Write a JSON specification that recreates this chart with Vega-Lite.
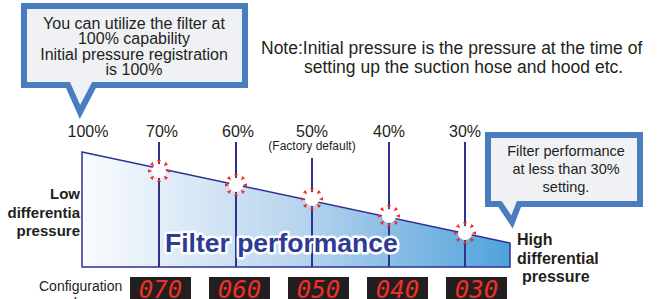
{
  "$schema": "https://vega.github.io/schema/vega-lite/v6.json",
  "width": 666,
  "height": 299,
  "padding": 0,
  "autosize": {"type": "none"},
  "background": "#ffffff",
  "config": {"view": {"stroke": null}, "text": {"font": "Liberation Sans"}},
  "datasets": {
    "area": [{"s": 0, "L": 115}, {"s": 5.5584, "L": 24}],
    "rules": [
      {"s": 1.0, "L": 125, "L2": 0},
      {"s": 2.0, "L": 125, "L2": 0},
      {"s": 2.987, "L": 109, "L2": 0},
      {"s": 3.987, "L": 125, "L2": 0},
      {"s": 4.974, "L": 125, "L2": 0}
    ],
    "stars": [
      {"s": 1.0, "L": 96},
      {"s": 2.0, "L": 82},
      {"s": 2.987, "L": 68},
      {"s": 3.987, "L": 51},
      {"s": 4.974, "L": 34}
    ],
    "pct": [
      {"s": 0.078, "L": 130, "t": "100%"},
      {"s": 1.039, "L": 130, "t": "70%"},
      {"s": 2.026, "L": 130, "t": "60%"},
      {"s": 2.987, "L": 130, "t": "50%"},
      {"s": 3.987, "L": 130, "t": "40%"},
      {"s": 4.974, "L": 130, "t": "30%"}
    ],
    "factory": [{"s": 2.987, "L": 117, "t": "(Factory default)"}],
    "note": [
      {"s": 2.3247, "L": 213, "t": "Note:Initial pressure is the pressure at the time of"},
      {"s": 2.8831, "L": 194, "t": "setting up the suction hose and hood etc."}
    ],
    "bubble1": [{"s": 0.6818, "L": 221.5}],
    "bubble2": [{"s": 6.2597, "L": 97.5}],
    "b1text": [
      {"s": 0.6753, "L": 238.5, "t": "You can utilize the filter at"},
      {"s": 0.6753, "L": 223, "t": "100% capability"},
      {"s": 0.6753, "L": 207.5, "t": "Initial pressure registration"},
      {"s": 0.6753, "L": 192, "t": "is 100%"}
    ],
    "b2text": [
      {"s": 6.2857, "L": 111, "t": "Filter performance"},
      {"s": 6.2857, "L": 93, "t": "at less than 30%"},
      {"s": 6.2857, "L": 75, "t": "setting."}
    ],
    "low": [
      {"s": -0.026, "L": 68, "t": "Low"},
      {"s": -0.026, "L": 49, "t": "differentia"},
      {"s": -0.026, "L": 31, "t": "pressure"}
    ],
    "high": [
      {"s": 5.6494, "L": 22, "t": "High"},
      {"s": 5.6494, "L": 3, "t": "differential"},
      {"s": 5.7143, "L": -15, "t": "pressure"}
    ],
    "perf": [{"s": 1.0779, "L": 15, "t": "Filter performance"}],
    "config": [
      {"s": -0.5584, "L": -24, "t": "Configuration"},
      {"s": -0.3, "L": -41, "t": "values"}
    ],
    "led": [
      {"s": 0.6234, "s2": 1.4156, "L": -10, "L2": -43, "c": 1.0195, "t": "070"},
      {"s": 1.6494, "s2": 2.4416, "L": -10, "L2": -43, "c": 2.0455, "t": "060"},
      {"s": 2.6753, "s2": 3.4675, "L": -10, "L2": -43, "c": 3.0714, "t": "050"},
      {"s": 3.7013, "s2": 4.4935, "L": -10, "L2": -43, "c": 4.0974, "t": "040"},
      {"s": 4.7273, "s2": 5.5195, "L": -10, "L2": -43, "c": 5.1234, "t": "030"}
    ]
  },
  "encoding": {
    "x": {"field": "s", "type": "quantitative", "scale": {"domain": [-1.06494, 7.58442], "nice": false, "zero": false}, "axis": null},
    "y": {"field": "L", "type": "quantitative", "scale": {"domain": [-32, 267], "nice": false, "zero": false}, "axis": null}
  },
  "layer": [
    {
      "data": {"name": "area"},
      "mark": {
        "type": "area",
        "stroke": "#2e3192",
        "strokeWidth": 1.5,
        "fill": {
          "gradient": "linear", "x1": 0, "x2": 1, "y1": 0, "y2": 0,
          "stops": [
            {"offset": 0, "color": "#fafcfe"},
            {"offset": 0.5, "color": "#b9d5ee"},
            {"offset": 1, "color": "#50a2db"}
          ]
        }
      },
      "encoding": {"y2": {"datum": 0}}
    },
    {
      "data": {"name": "rules"},
      "mark": {"type": "rule", "color": "#2e3192", "strokeWidth": 2},
      "encoding": {"y2": {"field": "L2"}}
    },
    {
      "data": {"name": "stars"},
      "mark": {"type": "point", "shape": "circle", "filled": true, "fill": "#ffffff", "opacity": 1, "size": 200, "strokeWidth": 0},
      "encoding": {}
    },
    {
      "data": {"name": "stars"},
      "mark": {
        "type": "point", "filled": true, "fill": "#ee2a24", "opacity": 1, "size": 484, "strokeWidth": 0,
        "shape": "M0.62,0L1,-0.17L1,0.17Z M0,0.62L0.17,1L-0.17,1Z M-0.62,0L-1,0.17L-1,-0.17Z M0,-0.62L-0.17,-1L0.17,-1Z M0.438,0.438L0.587,0.827L0.827,0.587Z M-0.438,0.438L-0.827,0.587L-0.587,0.827Z M-0.438,-0.438L-0.587,-0.827L-0.827,-0.587Z M0.438,-0.438L0.827,-0.587L0.587,-0.827Z"
      },
      "encoding": {}
    },
    {
      "data": {"name": "pct"},
      "mark": {"type": "text", "fontSize": 16, "color": "#231f20", "align": "center", "baseline": "alphabetic"},
      "encoding": {"text": {"field": "t"}}
    },
    {
      "data": {"name": "factory"},
      "mark": {"type": "text", "fontSize": 12, "color": "#231f20", "align": "center", "baseline": "alphabetic"},
      "encoding": {"text": {"field": "t"}}
    },
    {
      "data": {"name": "note"},
      "mark": {"type": "text", "fontSize": 17.5, "color": "#231f20", "align": "left", "baseline": "alphabetic"},
      "encoding": {"text": {"field": "t"}}
    },
    {
      "data": {"name": "perf"},
      "mark": {"type": "text", "fontSize": 26.5, "fontWeight": "bold", "color": "#ffffff", "stroke": "#ffffff", "strokeWidth": 5, "strokeJoin": "round", "align": "left", "baseline": "alphabetic"},
      "encoding": {"text": {"field": "t"}}
    },
    {
      "data": {"name": "perf"},
      "mark": {"type": "text", "fontSize": 26.5, "fontWeight": "bold", "color": "#2e3a94", "align": "left", "baseline": "alphabetic"},
      "encoding": {"text": {"field": "t"}}
    },
    {
      "data": {"name": "bubble1"},
      "mark": {
        "type": "point", "filled": true, "fill": "#eff1f4", "stroke": "#4a7cc0", "strokeWidth": 6, "strokeJoin": "miter", "strokeMiterLimit": 10, "opacity": 1, "size": 4,
        "shape": "M-110.5,-39.5H110.5V39.5H-40.5L-54.5,66.5L-66.5,39.5H-110.5Z"
      },
      "encoding": {}
    },
    {
      "data": {"name": "bubble2"},
      "mark": {
        "type": "point", "filled": true, "fill": "#eff1f4", "stroke": "#4a7cc0", "strokeWidth": 6, "strokeJoin": "miter", "strokeMiterLimit": 10, "opacity": 1, "size": 4,
        "shape": "M-76,-34.5H76V34.5H-45L-52,52.5L-64,34.5H-76Z"
      },
      "encoding": {}
    },
    {
      "data": {"name": "b1text"},
      "mark": {"type": "text", "fontSize": 16, "color": "#231f20", "align": "center", "baseline": "alphabetic"},
      "encoding": {"text": {"field": "t"}}
    },
    {
      "data": {"name": "b2text"},
      "mark": {"type": "text", "fontSize": 14.5, "color": "#231f20", "align": "center", "baseline": "alphabetic"},
      "encoding": {"text": {"field": "t"}}
    },
    {
      "data": {"name": "low"},
      "mark": {"type": "text", "fontSize": 15, "fontWeight": "bold", "color": "#231f20", "align": "right", "baseline": "alphabetic"},
      "encoding": {"text": {"field": "t"}}
    },
    {
      "data": {"name": "high"},
      "mark": {"type": "text", "fontSize": 16, "fontWeight": "bold", "color": "#231f20", "align": "left", "baseline": "alphabetic"},
      "encoding": {"text": {"field": "t"}}
    },
    {
      "data": {"name": "config"},
      "mark": {"type": "text", "fontSize": 14, "color": "#231f20", "align": "left", "baseline": "alphabetic"},
      "encoding": {"text": {"field": "t"}}
    },
    {
      "data": {"name": "led"},
      "mark": {"type": "rect", "color": "#231f20"},
      "encoding": {"x2": {"field": "s2"}, "y2": {"field": "L2"}}
    },
    {
      "data": {"name": "led"},
      "mark": {"type": "text", "font": "DejaVu Sans Mono", "fontStyle": "italic", "fontSize": 24, "color": "#ee3124", "align": "center", "baseline": "alphabetic"},
      "encoding": {"x": {"field": "c", "type": "quantitative"}, "y": {"datum": -31}, "text": {"field": "t"}}
    }
  ]
}
